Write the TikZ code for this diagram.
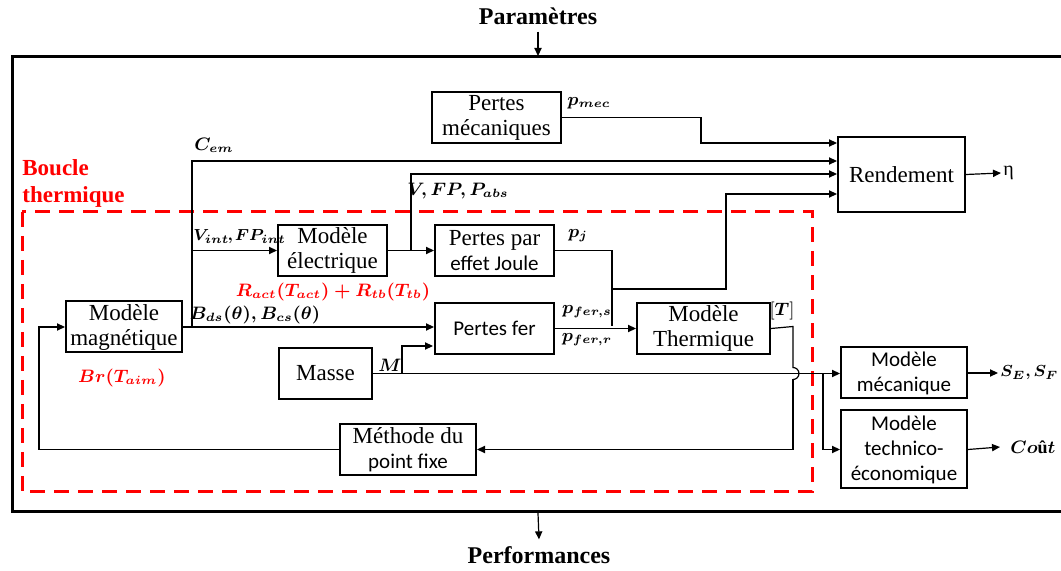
\documentclass[tikz,border=0pt]{standalone}
\usepackage{fontspec}
\setmainfont{Liberation Serif}
\newfontfamily\calibri{Carlito}
\usepackage{amsmath}
\DeclareMathSizes{9.5}{9.5}{6.3}{5}
\DeclareMathSizes{9}{9}{6}{5}
\DeclareMathSizes{8.5}{8.5}{5.8}{4.5}
\usepackage{tikz}
\usetikzlibrary{arrows.meta, positioning}
\definecolor{loopred}{RGB}{255, 0, 0}

\begin{document}
\begin{tikzpicture}[x=0.5pt, y=-0.5pt,
        block/.style={rectangle, draw, line width=1pt, align=center, inner sep=1pt, minimum height=25.5pt, font=\fontsize{11.5}{12.5}\selectfont},
        sansblock/.style={block, font=\calibri\fontsize{10.5}{12.5}\selectfont},
        wire/.style={line width=0.6pt},
        arr/.style={-{Triangle[length=4pt,width=3.6pt]}, line width=0.6pt},
        lbl/.style={inner sep=1pt, font=\fontsize{9}{11}\selectfont},
        redlbl/.style={lbl, text=loopred, font=\fontsize{9.5}{11}\selectfont},
        title/.style={font=\bfseries\fontsize{12}{14}\selectfont}
      ]
        \useasboundingbox (0,0) rectangle (1061,571);
        % outer frame and thermal loop
        \draw[line width=1.5pt] (12,57) rectangle (1068,512);
        \draw[loopred, line width=1.5pt, dash pattern=on 7.5pt off 4.5pt] (22,212) rectangle (812,492);
        \node[anchor=north west, align=left, inner sep=0pt, text=loopred, font=\bfseries\fontsize{11.5}{13.5}\selectfont] (loop) at (22,159) {Boucle\\thermique};

        \node[title] (param) at (538,16) {Paramètres};
        \node[title] (perf) at (539,555) {Performances};
        \coordinate (ptop) at (538,56);
        \coordinate (pbot) at (538,513);
        \draw[arr] (param.south) -- (ptop);
        \draw[arr] (pbot) -- (perf.north);

        % blocks
        \node[block, minimum width=64.5pt] (mecloss) at (496.5,117.5) {Pertes\\mécaniques};
        \node[block, minimum width=63.5pt, minimum height=37.5pt] (rend) at (901.5,174.5) {Rendement};
        \node[block, minimum width=54.5pt] (elec) at (332.5,250.5) {Modèle\\électrique};
        \node[block, minimum width=59.5pt, right=23pt of elec] (joule) {Pertes par\\{\calibri\fontsize{10.5}{12.5}\selectfont effet Joule}};
        \node[sansblock, minimum width=59.5pt, below=12.5pt of joule] (fer) {Pertes fer};
        \node[block, minimum width=66.5pt, right=40.5pt of fer] (therm) {Modèle\\Thermique};
        \node[block, minimum width=58pt] (magn) at (124,327) {Modèle\\magnétique};
        \node[block, minimum width=46.5pt] (masse) at (325.5,373.5) {Masse};
        \node[block, minimum width=68pt] (fixe) at (408,449.5) {Méthode du\\{\calibri\fontsize{10.5}{12.5}\selectfont point fixe}};
        \node[sansblock, minimum width=63pt] (meca) at (904,373) {Modèle\\mécanique};
        \node[sansblock, minimum width=63pt, minimum height=39pt, below=5pt of meca] (techno) {Modèle\\technico-\\économique};

        % junctions
        \coordinate (pm) at (701,143);
        \coordinate (jm) at (192,327);
        \coordinate (jc) at (192,161);
        \coordinate (jv) at (411,250.5);
        \coordinate (jvtop) at (411,174);
        \coordinate (jpt) at (612,326.5);
        \coordinate (jpb) at (612,289);
        \coordinate (jpc) at (726,194);
        \coordinate (jmass) at (402,373.5);
        \coordinate (fin2) at (433,346);
        \coordinate (jtech) at (823,373.5);
        \coordinate (jt1) at (793,326.5);
        \coordinate (jhop) at (793,367.5);
        \coordinate (jt2) at (793,449.5);
        \coordinate (jf) at (39,449.5);

        % connectors
        \draw[arr] (mecloss.east) -| (pm) -- (rend.west |- pm);
        \draw[arr] (magn.east) -- (fer.west |- magn.east);
        \draw[arr] (jm) -- (jc) -- (rend.west |- jc);
        \draw[arr] (jm |- elec) -- (elec.west);
        \draw[arr] (elec) -- (joule);
        \draw[arr] (jv) -- (jvtop) -- (rend.west |- jvtop);
        \draw[wire] (joule.east) -| (jpt);
        \draw[arr] (fer) -- (therm);
        \draw[arr] (jpb) -| (jpc) -- (rend.west |- jpc);
        \draw[arr] (jmass) |- (fin2);
        \draw[arr] (masse.east) -- (meca.west |- masse.east);
        \draw[arr] (jtech) |- (techno.west);
        \draw[wire] (therm.east) -- (jt1) -- (jhop) arc[start angle=90, end angle=-90, radius=3pt];
        \draw[arr] (793,379.5) -- (jt2) -- (fixe.east |- jt2);
        \draw[arr] (fixe.west) -- (jf) |- (magn.west);

        % labels
        \node[lbl] (pmeclbl) at (589,103) {$\boldsymbol{p_{mec}}$};
        \node[lbl] (cemlbl) at (214,145) {$\boldsymbol{C_{em}}$};
        \node[lbl, anchor=west, font=\fontsize{8.5}{10}\selectfont] (vintlbl) at (191,237) {$\boldsymbol{V_{int}}\mkern-2mu\boldsymbol{,}\mkern2mu\boldsymbol{FP_{int}}$};
        \node[lbl] (bdslbl) at (255,315) {$\boldsymbol{B_{ds}(\theta), B_{cs}(\theta)}$};
        \node[lbl] (vfplbl) at (458,191) {$\boldsymbol{V, FP, P_{abs}}$};
        \node[lbl] (pjlbl) at (578,236) {$\boldsymbol{p_{j}}$};
        \node[lbl] (pfslbl) at (587,312) {$\boldsymbol{p_{fer,s}}$};
        \node[lbl] (pfrlbl) at (587,340) {$\boldsymbol{p_{fer,r}}$};
        \node[lbl] (mlbl) at (390,365) {$\boldsymbol{M}$};
        \node[lbl] (tlbl) at (782,311) {$[\boldsymbol{T}]$};
        \node[redlbl] (rlbl) at (333,292) {$\boldsymbol{R_{act}(T_{act}) + R_{tb}(T_{tb})}$};
        \node[redlbl] (brlbl) at (122,378) {$\boldsymbol{Br(T_{aim})}$};

        % outputs
        \node[lbl, anchor=west, font=\fontsize{10}{12}\selectfont] (eta) at (1001,173) {η};
        \node[lbl, anchor=west, font=\fontsize{8.5}{10}\selectfont] (sesf) at (998,373) {$\boldsymbol{S_E}\boldsymbol{,}\mkern3mu\boldsymbol{S_F}$};
        \node[lbl, anchor=west] (cout) at (1008,447) {$\boldsymbol{Co}$\textbf{û}$\boldsymbol{t}$};
        \draw[arr] (rend.east) -- (eta.west);
        \draw[arr] (meca.east) -- (sesf.west);
        \draw[arr] (techno.east) -- (1000,447);
      \end{tikzpicture}
\end{document}
